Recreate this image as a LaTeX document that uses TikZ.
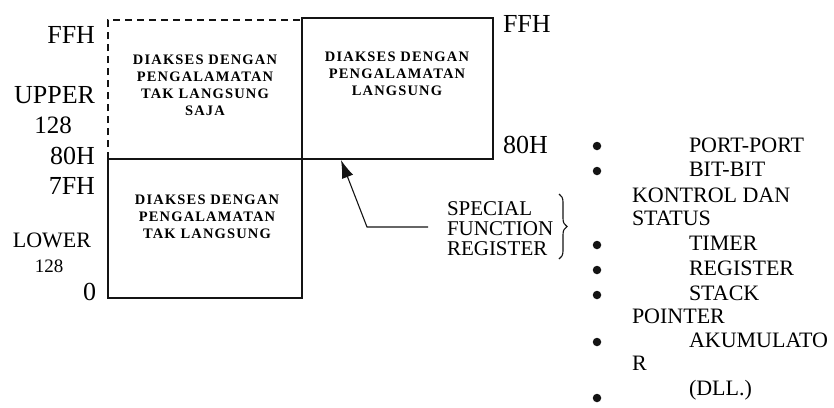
\documentclass[tikz,border=0pt]{standalone}
\usepackage{fontspec}
\setmainfont{Liberation Serif}
\usetikzlibrary{arrows.meta,decorations.pathreplacing}
\definecolor{inkcolor}{RGB}{20,20,20}

\begin{document}
\begin{tikzpicture}[x=1bp,y=-1bp,inner sep=0pt,outer sep=0pt,line width=1.1bp,
  addr/.style={anchor=base east,font=\fontsize{26bp}{30bp}\selectfont},
  item/.style={anchor=base west,font=\fontsize{22bp}{26bp}\selectfont},
  boxtext/.style={anchor=north,align=center,font=\fontsize{14.5bp}{17bp}\selectfont\bfseries\addfontfeatures{LetterSpace=8}},
  listdot/.style={circle,fill=inkcolor,minimum size=8.5bp}]
  \useasboundingbox (0,0) rectangle (834,407);
  % memory blocks
  \draw[draw=inkcolor,dash pattern=on 7bp off 5bp] (108,159) |- (302,20);
  \node[draw=inkcolor,anchor=north west,minimum width=191bp,minimum height=141bp] (directbox) at (302,18) {};
  \node[draw=inkcolor,anchor=north west,minimum width=194bp,minimum height=139bp] (lowerbox) at (108,159) {};
  \node[boxtext] (uppertext) at (205,55) {DIAKSES DENGAN\\PENGALAMATAN\\TAK LANGSUNG\\SAJA};
  \node[boxtext] (directtext) at (397,52) {DIAKSES DENGAN\\PENGALAMATAN\\LANGSUNG};
  \node[boxtext] (lowertext) at (207,195) {DIAKSES DENGAN\\PENGALAMATAN\\TAK LANGSUNG};
  % address labels left
  \node[addr] (ffhleft) at (95,43) {FFH};
  \node[addr] (upper) at (95,103) {UPPER};
  \node[anchor=base,font=\fontsize{25bp}{28bp}\selectfont] (upperlen) at (53,133) {128};
  \node[addr] (eightyleft) at (95,164) {80H};
  \node[addr] (sevenf) at (95,194) {7FH};
  \node[anchor=base,font=\fontsize{22bp}{24bp}\selectfont] (lower) at (52,247) {LOWER};
  \node[anchor=base,font=\fontsize{19bp}{22bp}\selectfont] (lowerlen) at (49,272) {128};
  \node[addr] (zero) at (96,300) {0};
  % address labels right
  \node[anchor=base west,font=\fontsize{26bp}{30bp}\selectfont] (ffhright) at (503,32) {FFH};
  \node[anchor=base west,font=\fontsize{26bp}{30bp}\selectfont] (eightyright) at (503,153) {80H};
  % special function register
  \node[anchor=west,align=left,font=\fontsize{21bp}{20bp}\selectfont] (sfr) at (447,229) {SPECIAL\\FUNCTION\\REGISTER};
  \coordinate (tail) at (428,227);
  \coordinate (bend) at (367,227);
  \coordinate (tip) at (341,160);
  \draw[draw=inkcolor,-{Latex[length=18bp,width=12bp]}] (tail) -- (bend) -- (tip);
  \draw[draw=inkcolor,decorate,decoration={brace,amplitude=8bp}] (559,194) -- (559,259);
  % register list
  \node[item] (port) at (689,152) {PORT-PORT};
  \node[item] (bit) at (689,176) {BIT-BIT};
  \node[item] (kontrol) at (632,202) {KONTROL DAN};
  \node[item] (status) at (632,225) {STATUS};
  \node[item] (timer) at (689,250) {TIMER};
  \node[item] (register) at (689,275) {REGISTER};
  \node[item] (stack) at (689,300) {STACK};
  \node[item] (pointer) at (632,323) {POINTER};
  \node[item] (akumulato) at (689,347) {AKUMULATO};
  \node[item] (akur) at (632,370) {R};
  \node[item] (dll) at (689,395) {(DLL.)};
  \foreach \y/\n in {146/a,171/b,245/c,270/d,295/e,342/f,398/g}
    \node[listdot] (dot\n) at (597,\y) {};
\end{tikzpicture}
\end{document}
